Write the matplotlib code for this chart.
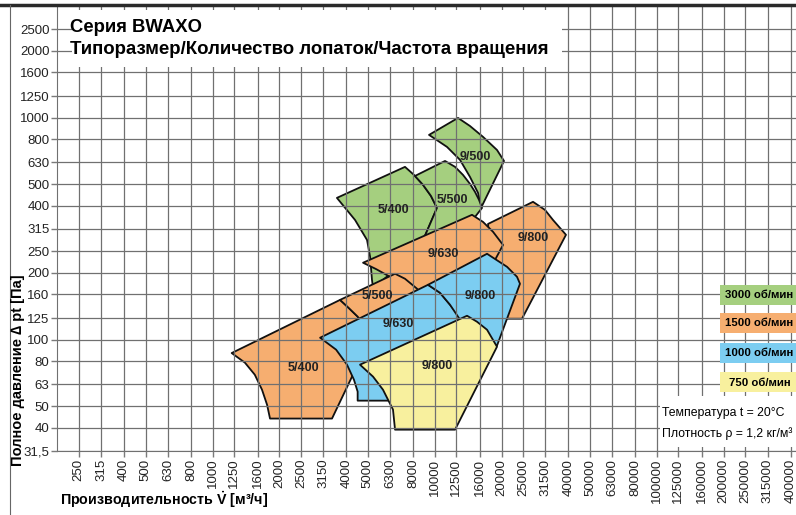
import matplotlib.pyplot as plt
from matplotlib.patches import Polygon, Rectangle
from matplotlib.lines import Line2D

plt.rcParams['font.family'] = ['Liberation Sans', 'DejaVu Sans']
plt.rcParams['mathtext.fontset'] = 'custom'
plt.rcParams['mathtext.rm'] = 'Liberation Sans'
plt.rcParams['mathtext.bf'] = 'Liberation Sans:bold'

W, H = 796, 515

x_ticks = [250, 315, 400, 500, 630, 800, 1000, 1250, 1600, 2000, 2500, 3150,
           4000, 5000, 6300, 8000, 10000, 12500, 16000, 20000, 25000, 31500,
           40000, 50000, 63000, 80000, 100000, 125000, 160000, 200000,
           250000, 315000, 400000]
y_ticks = [31.5, 40, 50, 63, 80, 100, 125, 160, 200, 250, 315, 400, 500, 630,
           800, 1000, 1250, 1600, 2000, 2500]
y_tick_labels = ['31,5'] + [str(int(v)) for v in y_ticks[1:]]

# working fields: air flow Q [m3/h], total pressure p [Pa]
g_9_500_q = [9430, 12730, 14410, 16500, 19070, 20510, 16160, 15670, 14410, 13000, 11360]
g_9_500_p = [836, 997, 917, 819, 715, 638, 392, 458, 541, 645, 738]

g_5_400_q = [3630, 7350, 8070, 8860, 9620, 10240, 9040, 8590, 5280, 5220, 5120, 4960, 4380]
g_5_400_p = [435, 600, 552, 498, 444, 392, 293.5, 254, 171, 186, 236, 281, 346]

g_5_500_q = [8150, 11130, 12350, 13410, 14410, 15180, 15830, 16330, 14720, 9330, 9040, 10240, 9620, 8860]
g_5_500_p = [546, 638, 600, 552, 503, 463, 426, 392, 343, 276, 293.5, 392, 444, 498]

o_9_800_q = [17380, 27700, 31360, 34070, 38980, 24710, 20720, 18680, 17740]
o_9_800_p = [332, 417.6, 384, 346, 296.6, 124.2, 124.2, 176.6, 253.8]

o_9_630_q = [4760, 14720, 16500, 18300, 20300, 18700, 8590, 6630, 6170, 5440]
o_9_630_p = [222, 365, 339, 306, 267, 229, 158, 186, 194, 208]

o_5_400_q = [1220, 3750, 4100, 4500, 4850, 4710, 4350, 3450, 1815, 1760, 1670, 1550, 1400]
o_5_400_p = [87, 151, 139, 127, 105, 85.5, 71.7, 44.1, 44.1, 50.9, 59.5, 69.5, 78.7]

o_5_500_q = [3750, 6630, 7350, 8330, 9040, 8150, 4610, 4500, 4100]
o_5_500_p = [151, 198, 188, 169.5, 151, 123, 123, 127, 139]

b_9_630_q = [3050, 9330, 10560, 11720, 12730, 13270, 10560, 9525, 4500, 4500, 4330, 4030, 3600]
b_9_630_p = [102, 176.6, 162.6, 143.6, 129.4, 116.7, 66, 53.1, 53.1, 58.3, 66, 77.1, 90.1]

b_9_800_q = [9330, 17200, 21160, 23460, 24200, 19070, 14410, 13000, 11720, 10560]
b_9_800_p = [176.6, 243.6, 212.8, 191.9, 178.5, 93.9, 110.8, 123, 143.6, 162.6]

y_9_800_q = [4610, 13980, 15500, 17200, 19070, 12350, 6630, 6490, 5850, 5280]
y_9_800_p = [77.1, 128.1, 120.4, 110.8, 92.9, 39.3, 39.3, 48.4, 59.5, 68.1]

field_names = ['9/500', '5/400', '5/500', '9/800', '9/630', '5/400', '5/500',
               '9/630', '9/800', '9/800']
field_q = [g_9_500_q, g_5_400_q, g_5_500_q, o_9_800_q, o_9_630_q, o_5_400_q,
           o_5_500_q, b_9_630_q, b_9_800_q, y_9_800_q]
field_p = [g_9_500_p, g_5_400_p, g_5_500_p, o_9_800_p, o_9_630_p, o_5_400_p,
           o_5_500_p, b_9_630_p, b_9_800_p, y_9_800_p]
field_speed = [3000, 3000, 3000, 1500, 1500, 1500, 1500, 1000, 1000, 750]
label_q = [15180, 6490, 11960, 27700, 10900, 2555, 5500, 6835, 15990, 10240]
label_p = [665, 384, 426, 287, 243.6, 74.7, 157.6, 117.9, 157.6, 76.3]

speeds = [3000, 1500, 1000, 750]
speed_colors = {3000: '#a5cf7f', 1500: '#f6ae70', 1000: '#7ccdf1', 750: '#f8f09e'}


def fx(px):
    return px / W


def fy(py):
    return 1 - py / H


fig = plt.figure(figsize=(W / 100, H / 100), dpi=100)
ax = fig.add_axes([fx(57), fy(451), fx(796) - fx(57), fy(5) - fy(451)])
ax.set_xscale('log')
ax.set_yscale('log')
ax.set_xlim(199.6, 422700)
ax.set_ylim(31.5, 3216)

for name, q, p, rpm, lq, lp in zip(field_names, field_q, field_p, field_speed,
                                   label_q, label_p):
    ax.add_patch(Polygon(list(zip(q, p)), closed=True, fc=speed_colors[rpm],
                         ec='#111111', lw=1.3, joinstyle='round'))
    ax.text(lq, lp, name, ha='center', va='center', fontsize=9,
            fontweight='bold', color='#222222', zorder=4)

ax.set_xticks(x_ticks)
ax.set_xticklabels([str(v) for v in x_ticks], rotation=90)
ax.set_yticks(y_ticks)
ax.set_yticklabels(y_tick_labels)
ax.minorticks_off()
ax.tick_params(direction='out', length=4, width=1, color='#7a7a7a',
               labelsize=9.5, pad=1.5, labelcolor='#222222')
ax.grid(True, color='#707070', lw=0.9)
ax.set_axisbelow(False)
for side in ['top', 'right']:
    ax.spines[side].set_visible(False)
for side in ['left', 'bottom']:
    ax.spines[side].set_color('#707070')

# page frame
fig.add_artist(Line2D([0, 1], [fy(4.5), fy(4.5)], transform=fig.transFigure,
                      color='#2a2a2a', lw=2.5))
fig.add_artist(Line2D([fx(10), fx(10)], [0, fy(4.5)], transform=fig.transFigure,
                      color='#666666', lw=0.8))

# title block
fig.add_artist(Rectangle((fx(72), fy(67)), fx(562) - fx(72), fy(10) - fy(67),
                         transform=fig.transFigure, fc='white', ec='none'))
fig.text(fx(70), fy(27), 'Серия BWAXO', fontsize=13.3, fontweight='bold',
         va='center')
fig.text(fx(70), fy(50), 'Типоразмер/Количество лопаток/Частота вращения',
         fontsize=13.4, fontweight='bold', va='center')

# speed legend
box_top = [285, 313, 343, 372]
for rpm, top in zip(speeds, box_top):
    fig.add_artist(Rectangle((fx(720), fy(top + 20)), fx(80), fy(top) - fy(top + 20),
                             transform=fig.transFigure, fc=speed_colors[rpm],
                             ec='none'))
    fig.text(fx(725 if rpm >= 1000 else 729), fy(top + 10.5), f'{rpm} об/мин',
             fontsize=8.2, fontweight='bold', va='center')

# air conditions
fig.add_artist(Rectangle((fx(660), fy(447)), fx(140), fy(396) - fy(447),
                         transform=fig.transFigure, fc='white', ec='none'))
fig.text(fx(662), fy(413), 'Температура t = 20°C', fontsize=8.8, va='center')
fig.text(fx(662), fy(434), 'Плотность ρ = 1,2 кг/м³', fontsize=8.8, va='center')

fig.text(fx(60), fy(500), r'Производительность $\mathbf{\dot{V}}$ [м³/ч]',
         fontsize=10.3, fontweight='bold', va='center')
fig.text(fx(18), fy(370), 'Полное давление ∆ pt [Па]', fontsize=10.5,
         fontweight='bold', rotation=90, ha='center', va='center')

fig.savefig('out.png', dpi=100)
